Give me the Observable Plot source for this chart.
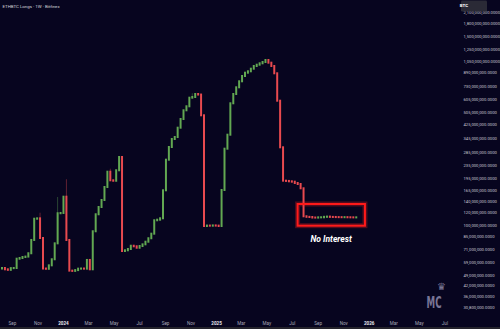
<!DOCTYPE html>
<html><head><meta charset="utf-8">
<script src="https://cdn.jsdelivr.net/npm/d3@7"></script>
<script src="https://cdn.jsdelivr.net/npm/@observablehq/plot@0.6"></script>
<style>
html,body{margin:0;padding:0;background:#07051f;overflow:hidden}
#chart{position:relative;width:500px;height:329px}
</style></head><body><div id="chart"></div>
<script>
const title = "ETHBTC Longs · 1W · Bitfinex";
const unit = "BTC";
const firstWeek = "2023-08-07"; // Monday of first weekly candle
// values in millions
const open = [
53.6,54.0,53.0,52.6,53.9,54.0,61.7,62.3,63.2,63.6,
66.7,80.7,109.4,110.0,83.0,53.6,53.4,56.1,61.2,76.9,
118.3,118.8,150.0,80.7,52.0,51.8,52.4,53.5,53.6,53.5,
60.6,53.0,91.4,116.6,129.4,143.1,172.4,214.6,189.7,188.5,
219.0,264.9,68.9,69.6,70.9,74.3,73.7,72.2,74.0,75.8,
78.7,82.7,88.3,107.0,107.9,110.1,164.4,254.9,305.7,342.8,
352.8,403.1,456.6,517.2,547.7,619.5,625.8,653.3,648.0,481.4,
98.6,99.2,99.0,99.4,99.1,98.6,165.1,298.4,364.6,571.8,
653.3,719.0,783.6,845.4,886.4,904.3,938.7,975.6,994.0,1014,
1033,1063,1023,975.6,878.8,593.4,304.4,188.7,188.0,187.0,
186.0,182.5,179.9,169.2,113.3,112.4,112.1,111.3,111.2,111.6,
111.7,112.4,112.8,112.3,112.2,112.0,111.9,111.8,111.9,111.7,
111.6,111.5
];
const close = [
54.0,53.0,52.6,53.9,54.0,61.7,62.3,63.2,63.6,66.7,
80.7,109.4,110.0,83.0,53.6,53.4,56.1,61.2,76.9,118.3,
118.8,150.0,80.7,52.0,51.8,52.4,53.5,53.6,53.5,60.6,
53.0,91.4,116.6,129.4,143.1,172.4,214.6,189.7,188.5,219.0,
264.9,68.9,69.6,70.9,74.3,73.7,72.2,74.0,75.8,78.7,
82.7,88.3,107.0,107.9,110.1,164.4,254.9,305.7,342.8,352.8,
403.1,456.6,517.2,547.7,619.5,625.8,653.3,648.0,481.4,98.6,
99.2,99.0,99.4,99.1,98.6,165.1,298.4,364.6,571.8,653.3,
719.0,783.6,845.4,886.4,904.3,938.7,975.6,994.0,1014,1033,
1063,1023,975.6,878.8,593.4,304.4,188.7,188.0,187.0,186.0,
182.5,179.9,169.2,113.3,112.4,112.1,111.3,111.2,111.6,111.7,
112.4,112.8,112.3,112.2,112.0,111.9,111.8,111.9,111.7,111.6,
111.5,111.6
];
const wicks = [[13,119.3],[19,149.4],[22,192.5],[37,224],[65,660]]; // [candle index, high]
const yTicks = [2100,1800,1500,1250,1050,890,730,605,505,425,345,285,235,195,165,140,120,100,85,71,59,49,42,36,30.8];
const monthTicks = ["2023-09-01","2023-11-01","2024-03-01","2024-05-01","2024-07-01","2024-09-01","2024-11-01","2025-03-01","2025-05-01","2025-07-01","2025-09-01","2025-11-01","2026-03-01","2026-05-01","2026-07-01"];
const yearTicks = ["2024-01-01","2025-01-01","2026-01-01"];
const box = {x1:"2025-07-15", x2:"2025-12-23", y1:99.0, y2:135.1};
const note = {text:"No Interest", x:"2025-10-02", y:82.2};

const GREEN = "#62a852", RED = "#e84a4f";
const start = new Date(firstWeek + "T00:00Z");
const candles = open.map((o,i)=>({
  date: d3.utcDay.offset(start, 7*i),
  open: o, close: close[i],
  color: close[i] >= o ? GREEN : RED
}));
const wickData = wicks.map(([i,h])=>({
  date: candles[i].date, low: Math.min(open[i], close[i]), high: h, color: candles[i].color
}));
const fmtY = d3.format(",.4f");

const svg = Plot.plot({
  width: 500, height: 329,
  marginLeft: 0, marginRight: 42, marginTop: 0, marginBottom: 14,
  style: {background: "#07051f", fontFamily: "Roboto, 'Liberation Sans', sans-serif"},
  x: {type: "utc", domain: [new Date("2023-08-03T10:00Z"), new Date("2026-08-02T12:00Z")], axis: null},
  y: {type: "log", domain: [27.54, 2511.3], axis: null},
  color: {type: "identity"},
  marks: [
    Plot.ruleX(wickData, {x: "date", y1: "low", y2: "high", stroke: "color", strokeWidth: 0.8, strokeOpacity: 0.5}),
    Plot.ruleX(candles, {x: "date", y1: "open", y2: "close", stroke: "color", strokeWidth: 2, strokeLinecap: "square"}),
    Plot.rect([box], {x1: d=>new Date(d.x1), x2: d=>new Date(d.x2), y1: "y1", y2: "y2", fill: "none", stroke: "#ff2020", strokeWidth: 5, strokeOpacity: 0.3}),
    Plot.rect([box], {x1: d=>new Date(d.x1), x2: d=>new Date(d.x2), y1: "y1", y2: "y2", fill: "none", stroke: "#ff1a1a", strokeWidth: 2}),
    Plot.text([note], {x: d=>new Date(d.x), y: "y", text: "text", fill: "#ffffff", fontSize: 8.5, fontWeight: "bold", fontStyle: "italic"}),
    Plot.text([title], {frameAnchor: "top-left", dx: 2, dy: 4, fontSize: 4.4, fill: "#d4d4dc", textAnchor: "start", lineAnchor: "top"}),
    Plot.text(yTicks, {y: d=>d, text: d=>fmtY(d*1e6), frameAnchor: "right", dx: 5, textAnchor: "start", fontSize: 4.2, fill: "#cac9d6"}),
    Plot.axisX(monthTicks.map(d=>new Date(d+"T00:00Z")), {anchor: "bottom", tickSize: 0, tickPadding: 6, tickFormat: d3.utcFormat("%b"), fontSize: 4.6, fill: "#a6a5b6", label: null}),
    Plot.axisX(yearTicks.map(d=>new Date(d+"T00:00Z")), {anchor: "bottom", tickSize: 0, tickPadding: 6, tickFormat: d3.utcFormat("%Y"), fontSize: 4.6, fontWeight: "bold", fill: "#e6e6ee", label: null})
  ]
});

const s = d3.select(svg);
// unit badge
s.append("rect").attr("x", 461).attr("y", 0.5).attr("width", 26).attr("height", 11).attr("rx", 1.2).attr("fill", "#2a2a36");
s.append("text").attr("x", 464).attr("y", 7.3).attr("font-size", 4.4).attr("font-weight", "bold").attr("fill", "#ffffff")
  .attr("font-family", "Roboto, sans-serif").text(unit);
// watermark
s.append("text").attr("x", 441.5).attr("y", 290).attr("text-anchor", "middle").attr("font-size", 10)
  .attr("font-family", "DejaVu Sans").attr("fill", "#8e89aa").attr("opacity", 0.85).text("♛");
s.append("text").attr("x", 434).attr("y", 308).attr("font-size", 15).attr("font-weight", "bold")
  .attr("font-family", "DejaVu Sans").attr("textLength", 15).attr("lengthAdjust", "spacingAndGlyphs")
  .attr("fill", "#8e89aa").attr("opacity", 0.85).text("MC");
// bottom border band
s.append("rect").attr("x", 0).attr("y", 327).attr("width", 500).attr("height", 2).attr("fill", "#24232c");

document.getElementById("chart").appendChild(svg);
</script></body></html>
